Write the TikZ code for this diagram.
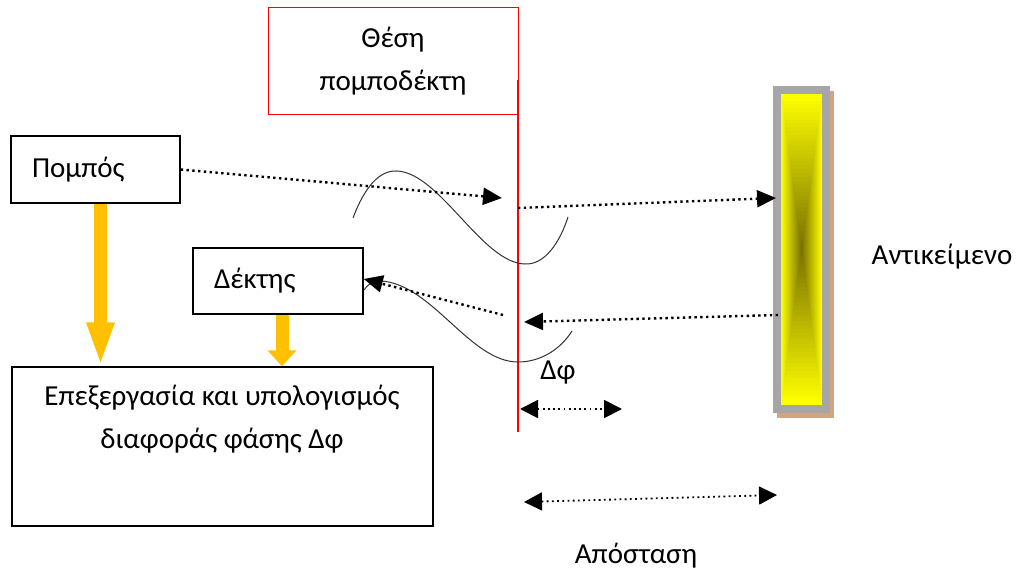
\documentclass[tikz,border=0pt]{standalone}
\usepackage{fontspec}
\setmainfont{Carlito}
\usetikzlibrary{arrows.meta}
\definecolor{amber}{HTML}{FFC000}
\definecolor{objyel}{HTML}{FFFF00}
\definecolor{objdark}{HTML}{7A7200}
\definecolor{frame}{HTML}{A6A6A6}
\definecolor{shadowtan}{RGB}{210,165,130}
\definecolor{wavegray}{HTML}{333333}
\tikzset{
  blk/.style={draw=black, line width=1.4pt, inner sep=0pt},
  txt/.style={font=\fontsize{29}{43}\selectfont},
  dotline/.style={line width=2.4pt, dash pattern=on 2.4pt off 3.4pt},
  thindot/.style={line width=1.8pt, dash pattern=on 1.8pt off 3.4pt},
  bigtip/.style={-{Triangle[length=19pt,width=17pt]}},
  twotip/.style={{Triangle[length=18pt,width=18pt]}-{Triangle[length=18pt,width=18pt]}},
  wave/.style={draw=wavegray, line width=1pt},
  feed/.style={draw=amber, line width=13pt},
}
\begin{document}
\begin{tikzpicture}[x=1pt,y=-1pt]
\useasboundingbox (0,0) rectangle (1018,572);

% transceiver position box and reference line
\node[draw=red, line width=1pt, minimum width=250pt, minimum height=107pt, align=center, txt]
  (pos) at (393,61.5) {Θέση\\πομποδέκτη};
\coordinate (lineTop) at (518,80);
\coordinate (lineBot) at (518,432);
\draw[red, line width=2.2pt] (lineTop) -- (lineBot);

% transmitter, receiver, processing
\node[blk, minimum width=169pt, minimum height=67pt, text width=127pt, align=left, txt]
  (tx) at (95.5,169.5) {Πομπός};
\node[blk, minimum width=170pt, minimum height=66pt, text width=128pt, align=left, txt]
  (rx) at (278,281) {Δέκτης};
\node[blk, minimum width=421pt, minimum height=159pt] (proc) at (222.5,446.5) {};
\node[txt, align=center] (proctxt) at (222,419) {Επεξεργασία και υπολογισμός\\διαφοράς φάσης Δφ};

% signal feeds into processing
\draw[feed, -{Triangle[length=44pt,width=25pt]}] (tx.south -| 100.5,0) -- (proc.north -| 100.5,0);
\draw[feed, -{Triangle[length=16pt,width=28pt]}] (rx.south -| 282,0) -- (proc.north -| 282,0);

% reflecting object
\fill[shadowtan] (777,91) rectangle (834,418);
\foreach \i in {0,...,40}{
  \pgfmathsetmacro\f{1-\i/41}
  \pgfmathsetmacro\p{100-2.5*\i}
  \fill[objyel!\p!objdark] (801.5-20.5*\f,249-156*\f) rectangle (801.5+20.5*\f,249+156*\f);
}
\draw[frame, line width=8pt] (777,90) rectangle (826,409);
\coordinate (objIn) at (776,198);
\coordinate (objOut) at (778,315);
\node[txt] (objlbl) at (942,257) {Αντικείμενο};

% waves
\draw[wave] (353,218) .. controls (365,186) and (380,170) .. (397,171)
  .. controls (440,173) and (482,263) .. (525,264)
  .. controls (545,265) and (560,242) .. (568,217);
\draw[wave] (364,290) .. controls (368,284) and (373,281) .. (381,281)
  .. controls (432,284) and (470,362) .. (518,362)
  .. controls (540,362) and (560,350) .. (572,331);

% propagation paths
\coordinate (txHit) at (502,198);
\coordinate (lineOut) at (518,208);
\coordinate (lineIn) at (524,322);
\coordinate (rxFrom) at (503,315);
\draw[dotline, bigtip] (tx.east) -- (txHit);
\draw[dotline, bigtip] (lineOut) -- (objIn);
\draw[dotline, bigtip] (objOut) -- (lineIn);
\draw[dotline, bigtip] (rxFrom) -- (rx.east |- 0,279);

% phase difference and distance
\node[txt] (dphi) at (558,373) {Δφ};
\coordinate (dpA) at (520,409);
\coordinate (dpB) at (622,409);
\draw[thindot, twotip] (dpA) -- (dpB);
\coordinate (dsA) at (524,502);
\coordinate (dsB) at (777,495);
\draw[thindot, twotip] (dsA) -- (dsB);
\node[txt] (dist) at (636,556) {Απόσταση};
\end{tikzpicture}
\end{document}
